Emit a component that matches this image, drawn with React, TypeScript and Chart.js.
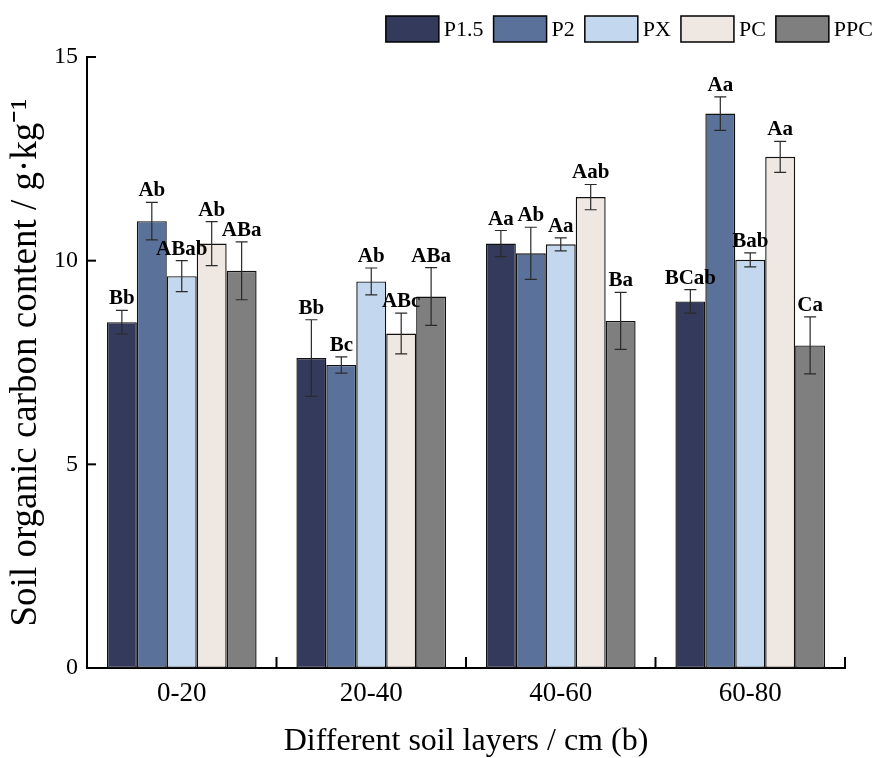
import React, { useEffect, useRef } from "react";
import { Chart, registerables } from "chart.js";

Chart.register(...registerables);

// ---- data ----
const categories = ["0-20", "20-40", "40-60", "60-80"];
const seriesNames = ["P1.5", "P2", "PX", "PC", "PPC"];
const seriesColors = ["#333a5b", "#5a7299", "#c3d8ee", "#efe7e2", "#7f7f7f"];

const p15 = [8.49, 7.61, 10.42, 9.0];
const p2 = [10.97, 7.44, 10.18, 13.61];
const px = [9.62, 9.49, 10.4, 10.02];
const pc = [10.42, 8.21, 11.56, 12.55];
const ppc = [9.75, 9.12, 8.52, 7.92];

const p15Err = [0.29, 0.94, 0.32, 0.29];
const p2Err = [0.46, 0.2, 0.64, 0.41];
const pxErr = [0.38, 0.33, 0.16, 0.17];
const pcErr = [0.54, 0.5, 0.31, 0.38];
const ppcErr = [0.71, 0.71, 0.7, 0.7];

const p15Labels = ["Bb", "Bb", "Aa", "BCab"];
const p2Labels = ["Ab", "Bc", "Ab", "Aa"];
const pxLabels = ["ABab", "Ab", "Aa", "Bab"];
const pcLabels = ["Ab", "ABc", "Aab", "Aa"];
const ppcLabels = ["ABa", "ABa", "Ba", "Ca"];

const yTicks = [0, 5, 10, 15];

const seriesValues = [p15, p2, px, pc, ppc];
const seriesErrors = [p15Err, p2Err, pxErr, pcErr, ppcErr];
const seriesLetters = [p15Labels, p2Labels, pxLabels, pcLabels, ppcLabels];

const SERIF = "'Liberation Serif', 'Times New Roman', serif";

const decorPlugin = {
  id: "decor",
  afterDatasetsDraw(chart: any) {
    const ctx = chart.ctx;
    const yScale = chart.scales.y;
    ctx.save();
    chart.data.datasets.forEach((ds: any, i: number) => {
      const meta = chart.getDatasetMeta(i);
      meta.data.forEach((bar: any, j: number) => {
        const v = ds.data[j];
        const e = ds.errors[j];
        const x = bar.x;
        const yt = yScale.getPixelForValue(v + e);
        const yb = yScale.getPixelForValue(v - e);
        ctx.strokeStyle = "#2a2a2a";
        ctx.lineWidth = 1.2;
        ctx.beginPath();
        ctx.moveTo(x, yt);
        ctx.lineTo(x, yb);
        ctx.moveTo(x - 6, yt);
        ctx.lineTo(x + 6, yt);
        ctx.moveTo(x - 6, yb);
        ctx.lineTo(x + 6, yb);
        ctx.stroke();
        ctx.fillStyle = "#000";
        ctx.font = `bold 21px ${SERIF}`;
        ctx.textAlign = "center";
        ctx.textBaseline = "alphabetic";
        ctx.fillText(ds.letters[j], x, yt - 6);
      });
    });
    ctx.restore();
  },
  afterDraw(chart: any) {
    const ctx = chart.ctx;
    const { left, right, bottom } = chart.chartArea;
    const xScale = chart.scales.x;
    const yScale = chart.scales.y;
    ctx.save();
    ctx.strokeStyle = "#000";
    ctx.lineWidth = 2;
    // inward y ticks
    yTicks.forEach((t) => {
      const py = yScale.getPixelForValue(t);
      ctx.beginPath();
      ctx.moveTo(left, py);
      ctx.lineTo(left + 9, py);
      ctx.stroke();
    });
    // x ticks at category boundaries, pointing up
    const bounds: number[] = [];
    for (let i = 0; i < categories.length - 1; i++) {
      bounds.push((xScale.getPixelForValue(i) + xScale.getPixelForValue(i + 1)) / 2);
    }
    bounds.push(right);
    bounds.forEach((bx) => {
      ctx.beginPath();
      ctx.moveTo(bx, bottom);
      ctx.lineTo(bx, bottom - 11);
      ctx.stroke();
    });
    // legend
    ctx.font = `22px ${SERIF}`;
    ctx.textBaseline = "middle";
    ctx.textAlign = "left";
    const boxW = 53;
    const boxH = 26;
    const gapBT = 5;
    const gapItem = 10;
    let total = 0;
    chart.data.datasets.forEach((ds: any, i: number) => {
      total += boxW + gapBT + ctx.measureText(ds.label).width;
      if (i < chart.data.datasets.length - 1) total += gapItem;
    });
    let cx = chart.width - 2 - total;
    const top = 16;
    chart.data.datasets.forEach((ds: any) => {
      ctx.fillStyle = ds.backgroundColor;
      ctx.fillRect(cx, top, boxW, boxH);
      ctx.lineWidth = 1.5;
      ctx.strokeStyle = "#000";
      ctx.strokeRect(cx, top, boxW, boxH);
      cx += boxW + gapBT;
      ctx.fillStyle = "#000";
      ctx.fillText(ds.label, cx, top + boxH / 2 + 1);
      cx += ctx.measureText(ds.label).width + gapItem;
    });
    ctx.restore();
  },
};

export default function App() {
  const canvasRef = useRef<HTMLCanvasElement | null>(null);

  useEffect(() => {
    document.body.style.margin = "0";
    const canvas = canvasRef.current;
    if (!canvas) return;
    const chart = new Chart(canvas, {
      type: "bar",
      data: {
        labels: categories,
        datasets: seriesNames.map((name, i) => ({
          label: name,
          data: seriesValues[i],
          errors: seriesErrors[i],
          letters: seriesLetters[i],
          backgroundColor: seriesColors[i],
          borderColor: "#111",
          borderWidth: 1.4,
          borderSkipped: false,
          categoryPercentage: 0.79,
          barPercentage: 1,
        })) as any,
      },
      options: {
        animation: false,
        responsive: false,
        devicePixelRatio: 1,
        layout: { padding: { top: 57, right: 30, left: 0, bottom: 0 } },
        plugins: {
          legend: { display: false },
          tooltip: { enabled: false },
        },
        scales: {
          x: {
            grid: { display: false, drawTicks: false },
            border: { display: true, color: "#000", width: 2 },
            ticks: {
              color: "#000",
              font: { family: SERIF, size: 27 },
              padding: 10,
            },
            title: {
              display: true,
              text: "Different soil layers / cm (b)",
              color: "#000",
              font: { family: SERIF, size: 32, lineHeight: 1 },
              padding: { top: 0, bottom: 0 },
            },
            afterFit(scale: any) {
              scale.height = 90;
            },
          },
          y: {
            min: 0,
            max: 15,
            grid: { display: false, drawTicks: false },
            border: { display: true, color: "#000", width: 2 },
            ticks: {
              stepSize: 5,
              color: "#000",
              font: { family: SERIF, size: 24 },
              padding: 9,
            },
            title: {
              display: true,
              text: "Soil organic carbon content / g·kg⁻¹",
              color: "#000",
              font: { family: SERIF, size: 37, lineHeight: 1.2 },
              padding: { top: 4, bottom: 0 },
            },
            afterFit(scale: any) {
              scale.width = 87;
            },
          },
        },
      },
      plugins: [decorPlugin],
    });
    return () => chart.destroy();
  }, []);

  return (
    <div style={{ width: 875, height: 758 }}>
      <canvas ref={canvasRef} width={875} height={758} style={{ display: "block" }} />
    </div>
  );
}
